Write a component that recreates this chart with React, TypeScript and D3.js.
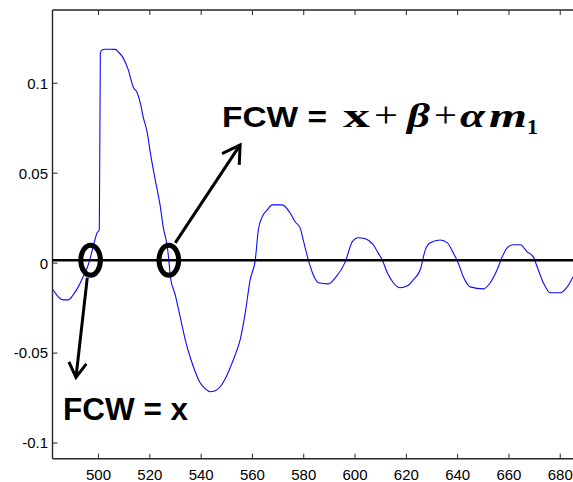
import React from "react";
import * as d3 from "d3";

// ---- data ----
const xTicks = [500, 520, 540, 560, 580, 600, 620, 640, 660, 680];
const xTickLabels = ["500", "520", "540", "560", "580", "600", "620", "640", "660", "680"];
const yTicks = [-0.1, -0.05, 0, 0.05, 0.1];
const yTickLabels = ["-0.1", "-0.05", "0", "0.05", "0.1"];

const waveX = [
  482.3, 484.3, 486.2, 488.2, 490.1, 492.1, 494.0, 496.0, 497.9, 499.4, 500.3, 500.7, 501.4, 502.6,
  504.6, 506.5, 507.7, 509.6, 511.6, 513.5, 515.1, 516.3, 517.4, 519.0, 520.2, 522.1, 524.1, 525.2,
  526.8, 527.4, 528.0, 529.9, 531.9, 533.8, 535.8, 537.7, 539.6, 541.6, 543.5, 545.5, 547.4, 549.4,
  551.3, 553.3, 555.2, 557.2, 559.1, 561.1, 562.3, 563.8, 565.8, 567.7, 571.6, 574.7, 576.7, 578.6,
  579.8, 581.8, 583.7, 585.7, 589.6, 592.3, 596.2, 598.9, 601.2, 604.0, 607.1, 609.0, 610.6, 612.6,
  614.9, 617.6, 620.4, 622.7, 625.4, 627.4, 629.3, 633.2, 636.0, 638.3, 640.2, 642.2, 644.9, 650.0,
  652.7, 655.4, 657.4, 659.3, 661.7, 664.4, 667.1, 669.5, 671.0, 673.4, 676.1, 680.0, 682.7, 685.1,
  688.0,
];
const waveY = [
  -0.0148, -0.0187, -0.0204, -0.0204, -0.0176, -0.0132, -0.0076, -0.0009, 0.0091, 0.0168, 0.0185,
  0.1168, 0.1185, 0.1189, 0.1189, 0.1188, 0.1174, 0.1141, 0.1074, 0.0979, 0.0946, 0.089, 0.0813,
  0.0724, 0.0613, 0.0463, 0.0313, 0.0202, 0.0091, 0.0018, -0.0077, -0.0176, -0.0304, -0.0426,
  -0.0526, -0.0604, -0.0665, -0.0698, -0.0715, -0.0709, -0.0687, -0.0643, -0.0582, -0.0509, -0.0426,
  -0.0276, -0.0093, 0.0018, 0.0185, 0.0257, 0.0296, 0.0324, 0.0324, 0.0279, 0.0229, 0.0196, 0.0129,
  0.0018, -0.0065, -0.0109, -0.0115, -0.0082, 0.0007, 0.0118, 0.0141, 0.0135, 0.0102, 0.0057, 0.0018,
  -0.0054, -0.0109, -0.0137, -0.0126, -0.0093, -0.0037, 0.0074, 0.0113, 0.0129, 0.0113, 0.0057,
  0.0002, -0.0076, -0.0132, -0.0143, -0.0109, -0.0037, 0.0035, 0.0085, 0.0102, 0.0102, 0.0063,
  0.0035, -0.002, -0.0109, -0.0165, -0.0165, -0.0132, -0.0076, -0.002,
];

// annotation anchors (data units)
const refLineY = 0.0016;
const circleX = [496.9, 527.4];
const arrowFrom = [
  [495.6, -0.0082],
  [529.9, 0.0113],
];
const arrowTo = [
  [491.2, -0.0635],
  [555.2, 0.0657],
];

const W = 573;
const H = 482;
const left = 52.5;
const top = 10;
const bottom = 458.7;
const pxPerUnit = 2.565;
const xDomain: [number, number] = [482.05, 690];

export default function App() {
  const x = d3
    .scaleLinear()
    .domain(xDomain)
    .range([left, left + (xDomain[1] - xDomain[0]) * pxPerUnit]);
  const y = d3.scaleLinear().domain([-0.1087, 0.1407]).range([bottom, top]);

  const pts = waveX.map((v, i) => [v, waveY[i]] as [number, number]);
  const line = d3
    .line<[number, number]>()
    .x((d) => x(d[0]))
    .y((d) => y(d[1]))
    .curve(d3.curveMonotoneX);

  const arrowHead = (from: number[], to: number[], len: number, ang: number) => {
    const x1 = x(from[0]), y1 = y(from[1]);
    const x2 = x(to[0]), y2 = y(to[1]);
    const a = Math.atan2(y1 - y2, x1 - x2);
    const r = (ang * Math.PI) / 180;
    const p1 = [x2 + len * Math.cos(a + r), y2 + len * Math.sin(a + r)];
    const p2 = [x2 + len * Math.cos(a - r), y2 + len * Math.sin(a - r)];
    return `M${p1[0]},${p1[1]}L${x2},${y2}L${p2[0]},${p2[1]}`;
  };

  const axisColor = "#262626";
  const sans = "'Liberation Sans', Arial, Helvetica, sans-serif";
  const serif = "'Liberation Serif', 'Times New Roman', serif";

  const mathParts = [
    { t: "x", x: 343, w: 27, it: false, bold: true, fs: 34 },
    { t: "+", x: 374, w: 24, it: false, bold: false, fs: 36 },
    { t: "β", x: 407, w: 23, it: true, bold: true, fs: 34 },
    { t: "+", x: 434, w: 23, it: false, bold: false, fs: 36 },
    { t: "α", x: 460, w: 25, it: true, bold: true, fs: 34 },
    { t: "m", x: 489, w: 38, it: true, bold: true, fs: 34 },
  ];

  return (
    <svg
      width={W}
      height={H}
      style={{ position: "absolute", left: 0, top: 0, background: "#fff" }}
      fontFamily={sans}
    >
      <defs>
        <clipPath id="plotClip">
          <rect x={left} y={top} width={W - left} height={bottom - top} />
        </clipPath>
      </defs>
      <rect x={0} y={0} width={W} height={H} fill="#fff" />

      {/* axes */}
      <line x1={left} x2={W} y1={top} y2={top} stroke={axisColor} strokeWidth={1.4} />
      <line x1={left} x2={W} y1={bottom} y2={bottom} stroke={axisColor} strokeWidth={1.4} />
      <line x1={left} x2={left} y1={top} y2={bottom} stroke={axisColor} strokeWidth={1.4} />

      {xTicks.map((t, i) => (
        <g key={"xt" + i}>
          <line x1={x(t)} x2={x(t)} y1={bottom} y2={bottom - 5} stroke={axisColor} strokeWidth={1} />
          <line x1={x(t)} x2={x(t)} y1={top} y2={top + 5} stroke={axisColor} strokeWidth={1} />
          <text x={x(t)} y={480} textAnchor="middle" fontSize={15} fill="#000">
            {xTickLabels[i]}
          </text>
        </g>
      ))}
      {yTicks.map((t, i) => (
        <g key={"yt" + i}>
          <line x1={left} x2={left + 5} y1={y(t)} y2={y(t)} stroke={axisColor} strokeWidth={1} />
          <text x={48} y={y(t)} dy="0.36em" textAnchor="end" fontSize={15} fill="#000">
            {yTickLabels[i]}
          </text>
        </g>
      ))}

      {/* signal */}
      <path
        d={line(pts) || ""}
        fill="none"
        stroke="#0a0aff"
        strokeWidth={1.1}
        clipPath="url(#plotClip)"
      />

      {/* annotations */}
      <line x1={left} x2={W} y1={y(refLineY)} y2={y(refLineY)} stroke="#000" strokeWidth={2.5} />
      {circleX.map((c, i) => (
        <ellipse
          key={"c" + i}
          cx={x(c)}
          cy={y(refLineY)}
          rx={9.8}
          ry={15}
          fill="none"
          stroke="#000"
          strokeWidth={5}
        />
      ))}
      {arrowFrom.map((f, i) => (
        <g key={"a" + i}>
          <line
            x1={x(f[0])}
            y1={y(f[1])}
            x2={x(arrowTo[i][0])}
            y2={y(arrowTo[i][1])}
            stroke="#000"
            strokeWidth={3}
          />
          <path
            d={arrowHead(f, arrowTo[i], i === 0 ? 17 : 20, 31)}
            fill="none"
            stroke="#000"
            strokeWidth={3}
          />
        </g>
      ))}

      <text
        x={63}
        y={420}
        fontSize={31}
        fontWeight="bold"
        fill="#000"
        textLength={125}
        lengthAdjust="spacingAndGlyphs"
      >
        FCW = x
      </text>

      <g fill="#000">
        <text
          x={222}
          y={127}
          fontSize={30}
          fontWeight="bold"
          fontFamily={sans}
          textLength={105}
          lengthAdjust="spacingAndGlyphs"
        >
          FCW =
        </text>
        {mathParts.map((p, i) => (
          <text
            key={"m" + i}
            x={p.x}
            y={127}
            fontSize={p.fs}
            fontWeight={p.bold ? "bold" : "normal"}
            fontStyle={p.it ? "italic" : "normal"}
            fontFamily={serif}
            textLength={p.w}
            lengthAdjust="spacingAndGlyphs"
          >
            {p.t}
          </text>
        ))}
        <text x={527} y={134} fontSize={22} fontWeight="bold" fontFamily={serif}>
          1
        </text>
      </g>
    </svg>
  );
}
